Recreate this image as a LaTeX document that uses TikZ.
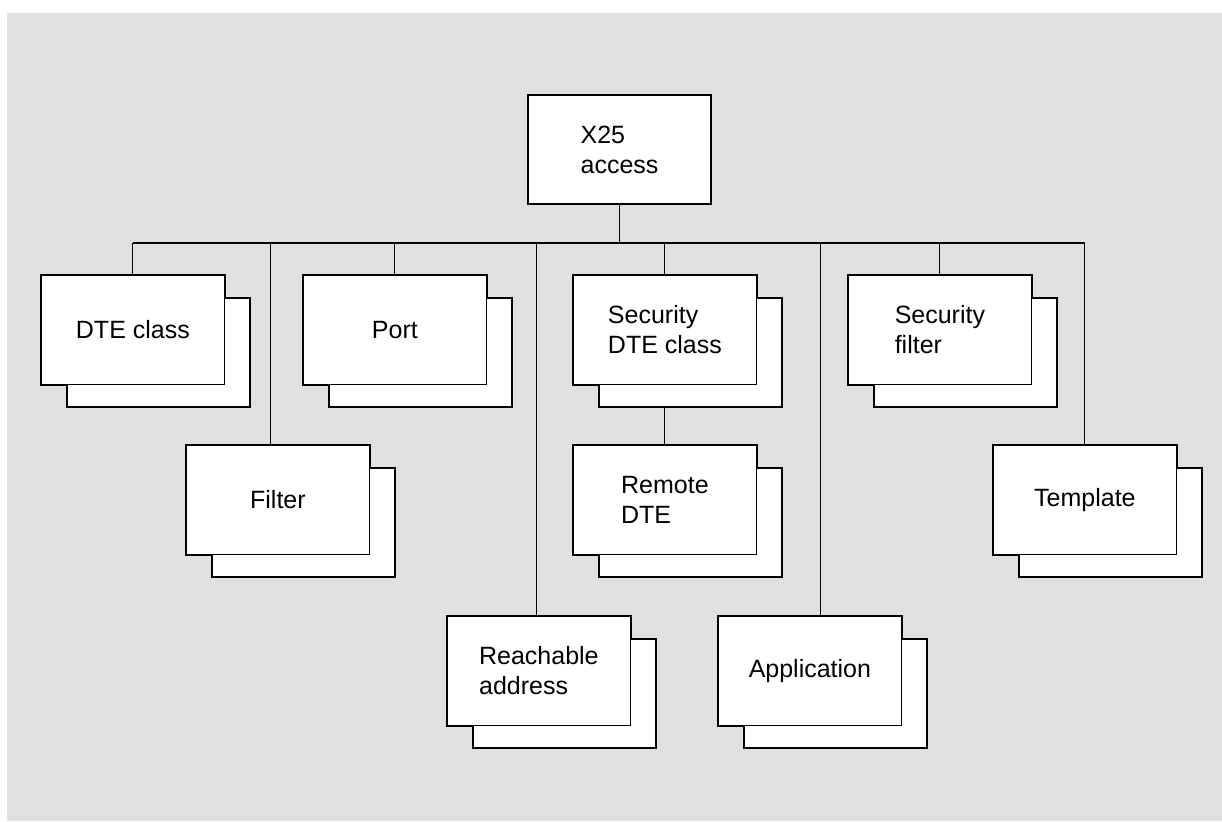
\documentclass[tikz,border=0pt]{standalone}
\usepackage{fontspec}
\setmainfont{Liberation Sans}
\definecolor{paneshade}{RGB}{223,224,226}

\begin{document}
\begin{tikzpicture}[x=1pt,y=-1pt]
\newcommand{\cardwidth}{183pt}
\newcommand{\cardheight}{109pt}
\newcommand{\thickline}{2pt}
\newcommand{\thinline}{0.8pt}
\newcommand{\stackcard}[4]{%
  \node[backcard, anchor=north west] (#1b) at (#2+25,#3+22) {};
  \node[frontcard, anchor=north west] (#1) at (#2,#3) {#4};
  \draw[outline] (#1b.north -| #1.east) -- (#1.north east) -- (#1.north west) -- (#1.south west) -- (#1.south -| #1b.west);
}
\tikzset{
  box/.style={fill=white, minimum width=\cardwidth, minimum height=\cardheight, inner sep=0pt, align=left, font=\fontsize{25}{30}\selectfont},
  backcard/.style={box, draw, line width=\thickline},
  frontcard/.style={box, draw, line width=\thinline},
  topcard/.style={box, draw, line width=\thickline},
  outline/.style={line width=\thickline},
  link/.style={line width=1pt}
}
    \useasboundingbox (0,0) rectangle (1222,821);
    \fill[paneshade] (7,13) rectangle (1222,821);

    \node[topcard, anchor=north west] (x25) at (527,94) {X25\\access};

    % first row
    \stackcard{dte}{41}{275}{DTE class}
    \stackcard{port}{303}{275}{Port}
    \stackcard{secdte}{573}{275}{Security\\DTE class}
    \stackcard{secflt}{848}{275}{Security\\filter}

    % second row
    \stackcard{flt}{186}{445}{Filter}
    \stackcard{remote}{573}{445}{Remote\\DTE}
    \stackcard{tpl}{993}{445}{Template}

    % third row
    \stackcard{reach}{447}{616}{Reachable\\address}
    \stackcard{appl}{718}{616}{Application}

    \coordinate (bus) at (618,243);
    \draw[link] (x25) -- (x25 |- bus);
    \draw[link, line width=1.3pt] (dte.north |- bus) -- (tpl.north |- bus);
    \draw[link] (dte.north) -- (dte.north |- bus);
    \draw[link] ([xshift=-7]flt.north) -- ([xshift=-7]flt.north |- bus);
    \draw[link] (port.north) -- (port.north |- bus);
    \draw[link] ([xshift=-2]reach.north) -- ([xshift=-2]reach.north |- bus);
    \draw[link] (secdte.north) -- (secdte.north |- bus);
    \draw[link] ([xshift=11]appl.north) -- ([xshift=11]appl.north |- bus);
    \draw[link] (secflt.north) -- (secflt.north |- bus);
    \draw[link] (tpl.north) -- (tpl.north |- bus);
    \draw[link] (secdteb.south -| secdte.north) -- (remote.north);
\end{tikzpicture}
\end{document}
